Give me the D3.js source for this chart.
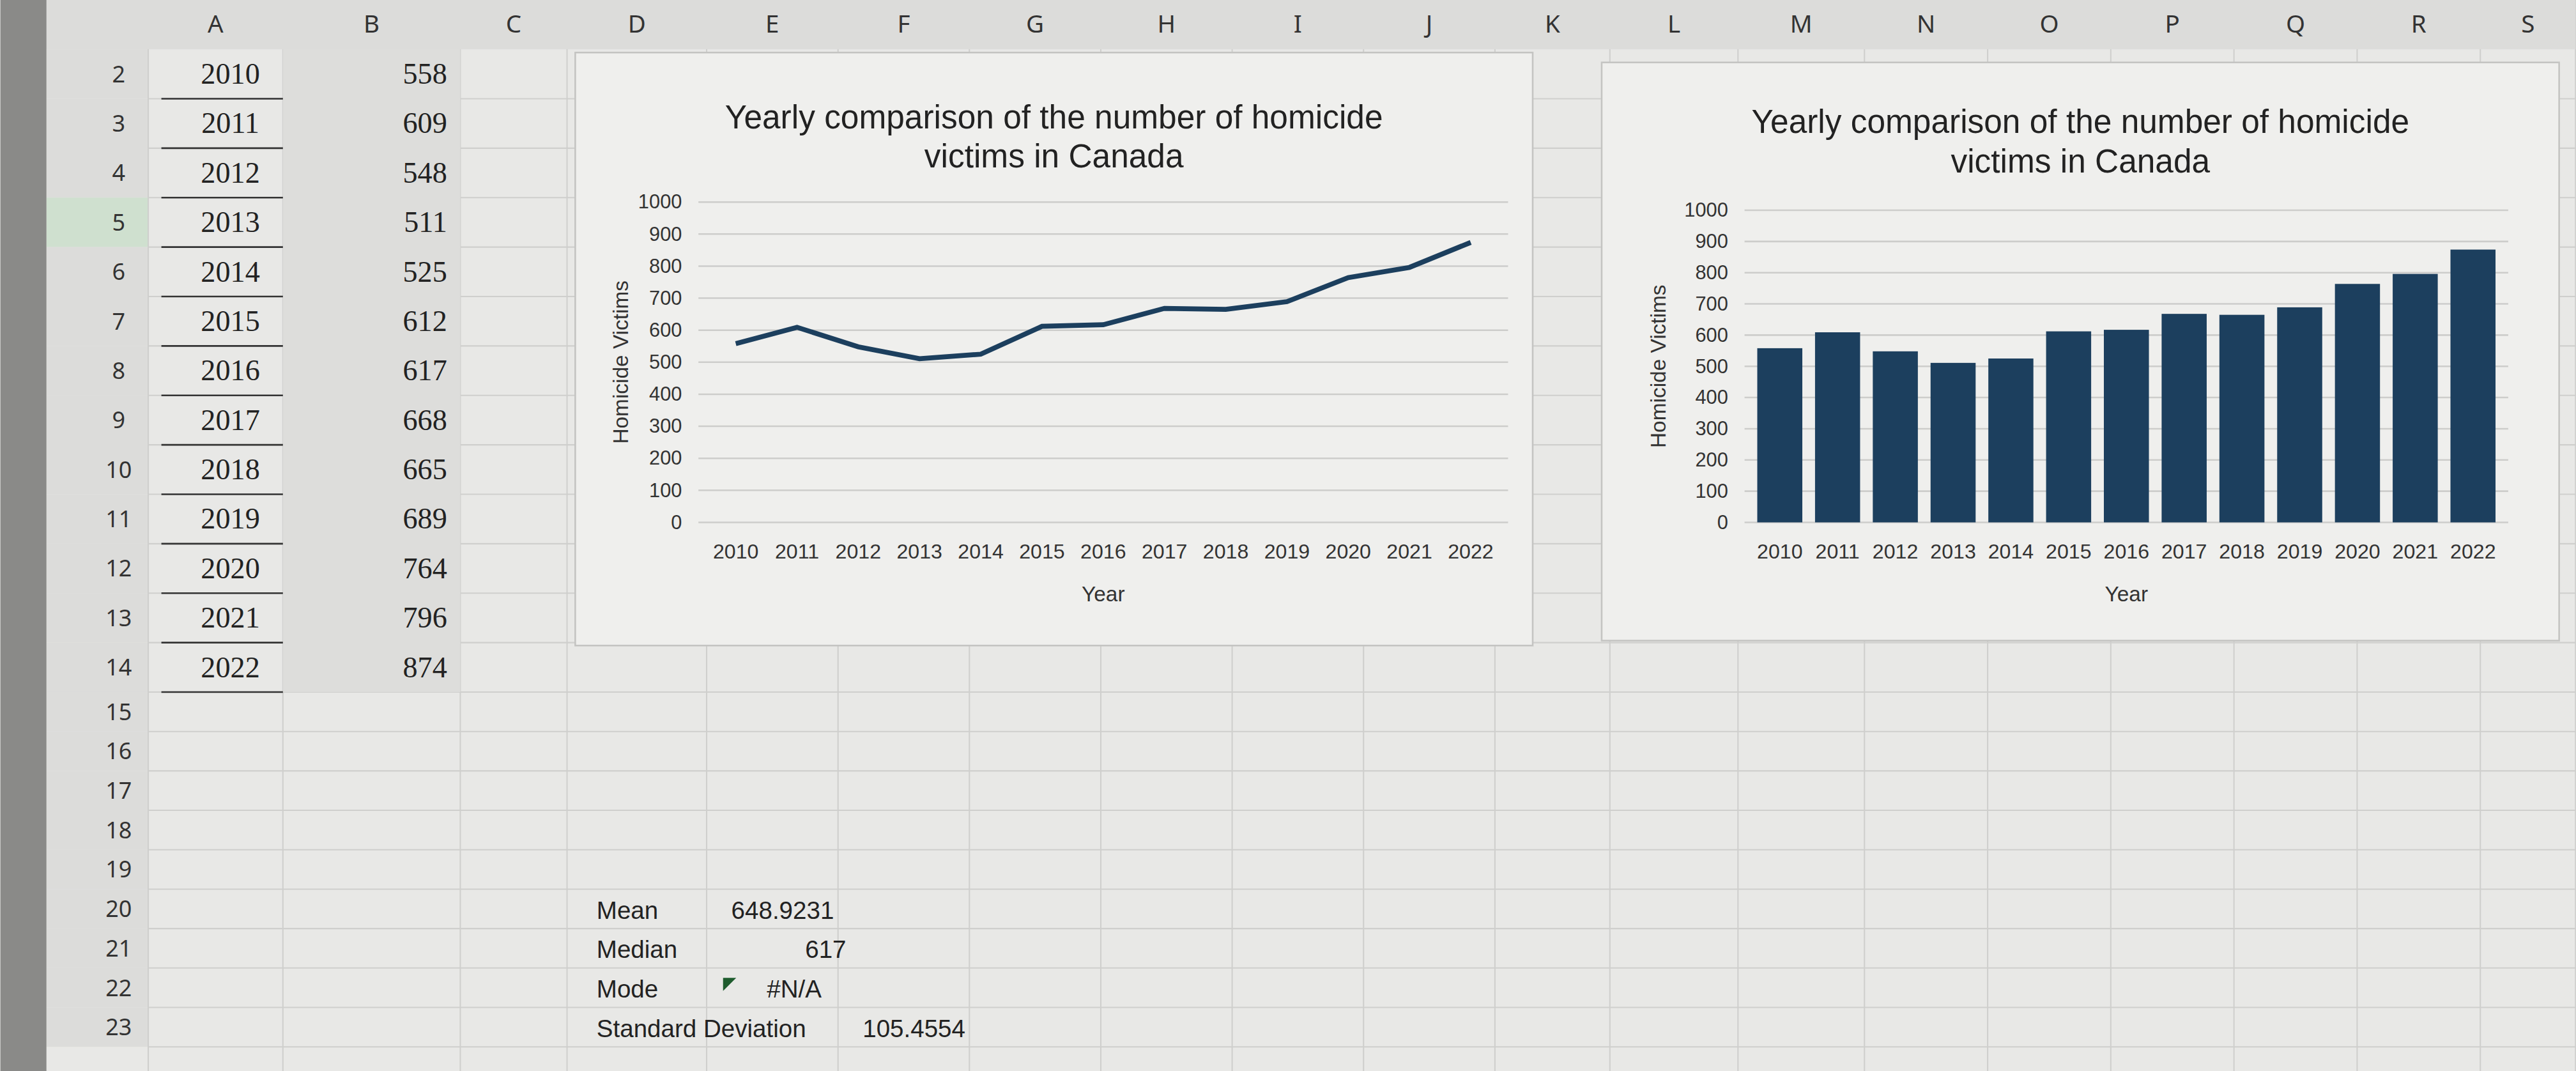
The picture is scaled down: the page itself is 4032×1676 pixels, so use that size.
<!DOCTYPE html>
<html><head><meta charset="utf-8">
<script src="https://cdn.jsdelivr.net/npm/d3@7"></script>
<style>body{margin:0;background:#e6e6e4;overflow:hidden}</style>
</head><body>
<svg id="s" width="4032" height="1676" viewBox="0 0 1568 652"></svg>
<script>
// data
var years = [2010,2011,2012,2013,2014,2015,2016,2017,2018,2019,2020,2021,2022];
var victims = [558,609,548,511,525,612,617,668,665,689,764,796,874];
var yTicks = [0,100,200,300,400,500,600,700,800,900,1000];
var colLetters = ["A","B","C","D","E","F","G","H","I","J","K","L","M","N","O","P","Q","R","S"];
var colEdges = [90,172,280,345,430,510,590,670,750,830,910,980,1058,1135,1210,1285,1360,1435,1510,1568];
var statNames = ["Mean","Median","Mode","Standard Deviation"];
var statVals = ["648.9231","617","#N/A","105.4554"];

var navy = "#1c3f5e";
var svg = d3.select("#s");
svg.append("rect").attr("width",1568).attr("height",652).attr("fill","#e8e8e6");

// row tops: taller rows at top of the photo, compressed lower down
var rows = d3.range(2,24);
function rowTopOf(i){ return i <= 13 ? 30 + i*30.1 : 30 + 13*30.1 + (i-13)*24; }
function rowHOf(i){ return i < 13 ? 30.1 : 24; }
var g = svg.append("g");
rows.forEach(function(r,i){
  var y = rowTopOf(i), h = rowHOf(i);
  g.append("line").attr("x1",90).attr("x2",1568).attr("y1",y+h).attr("y2",y+h).attr("stroke","#cfcfcd").attr("stroke-width",0.8);
  g.append("rect").attr("x",28).attr("y",y).attr("width",62).attr("height",h)
    .attr("fill", r==5 ? "#cfe0cf" : "#dcdcda");
  g.append("text").attr("x",72).attr("y",y+h/2+5).attr("text-anchor","middle")
    .attr("font-family","Noto Sans").attr("font-size",14).attr("fill","#333").text(r);
});
colEdges.forEach(function(x){
  g.append("line").attr("x1",x).attr("x2",x).attr("y1",0).attr("y2",652).attr("stroke","#cfcfcd").attr("stroke-width",0.8);
});
g.append("rect").attr("x",0).attr("y",0).attr("width",1568).attr("height",30).attr("fill","#dcdcda");
g.append("rect").attr("x",0).attr("y",0).attr("width",28).attr("height",652).attr("fill","#8a8a88");
colLetters.forEach(function(c,i){
  g.append("text").attr("x",(colEdges[i]+colEdges[i+1])/2).attr("y",20).attr("text-anchor","middle")
    .attr("font-family","Noto Sans").attr("font-size",15).attr("fill","#333").text(c);
});

// data cells
g.append("rect").attr("x",172).attr("y",30).attr("width",108).attr("height",30.1*13).attr("fill","#dddddb");
years.forEach(function(yr,i){
  var y = rowTopOf(i);
  g.append("text").attr("x",140).attr("y",y+21).attr("text-anchor","middle")
    .attr("font-family","Liberation Serif").attr("font-size",18).attr("fill","#222").text(yr);
  g.append("line").attr("x1",98).attr("x2",172).attr("y1",y+30.1).attr("y2",y+30.1).attr("stroke","#333").attr("stroke-width",1);
  g.append("text").attr("x",272).attr("y",y+21).attr("text-anchor","end")
    .attr("font-family","Liberation Serif").attr("font-size",18).attr("fill","#222").text(victims[i]);
});

// stats (rows 20-23)
statNames.forEach(function(n,i){
  var y = rowTopOf(18+i) + 18;
  g.append("text").attr("x",363).attr("y",y).attr("font-family","Liberation Sans").attr("font-size",15).attr("fill","#222").text(n);
});
var sy = function(i){ return rowTopOf(18+i) + 18; };
var sv = g.append("g").attr("font-family","Liberation Sans").attr("font-size",15).attr("fill","#222");
sv.append("text").attr("x",445).attr("y",sy(0)).text(statVals[0]);
sv.append("text").attr("x",515).attr("y",sy(1)).attr("text-anchor","end").text(statVals[1]);
sv.append("text").attr("x",500).attr("y",sy(2)).attr("text-anchor","end").text(statVals[2]);
sv.append("text").attr("x",525).attr("y",sy(3)).text(statVals[3]);
g.append("path").attr("d","M440,"+(sy(2)-12)+" l8,0 l-8,8Z").attr("fill","#1e5c2e");

function chart(box, plot, type){
  var c = svg.append("g");
  c.append("rect").attr("x",box.x).attr("y",box.y).attr("width",box.w).attr("height",box.h)
    .attr("fill","#efefed").attr("stroke","#c4c4c2");
  var cx = box.x + box.w/2;
  c.append("text").attr("x",cx).attr("y",box.y+box.ty).attr("text-anchor","middle")
    .attr("font-family","Liberation Sans").attr("font-size",20).attr("fill","#222")
    .text("Yearly comparison of the number of homicide");
  c.append("text").attr("x",cx).attr("y",box.y+box.ty+24).attr("text-anchor","middle")
    .attr("font-family","Liberation Sans").attr("font-size",20).attr("fill","#222")
    .text("victims in Canada");
  var y = d3.scaleLinear().domain([0,1000]).range([plot.b,plot.t]);
  var x = d3.scaleBand().domain(years).range([plot.l,plot.r]).padding(0.22);
  yTicks.forEach(function(t){
    c.append("line").attr("x1",plot.l).attr("x2",plot.r).attr("y1",y(t)).attr("y2",y(t)).attr("stroke","#cdcdcb");
    c.append("text").attr("x",plot.l-10).attr("y",y(t)+4).attr("text-anchor","end")
      .attr("font-family","Liberation Sans").attr("font-size",12).attr("fill","#333").text(t);
  });
  years.forEach(function(yr){
    c.append("text").attr("x",x(yr)+x.bandwidth()/2).attr("y",plot.b+22).attr("text-anchor","middle")
      .attr("font-family","Liberation Sans").attr("font-size",12.5).attr("fill","#333").text(yr);
  });
  if(type=="bar"){
    c.selectAll(".bar").data(victims).enter().append("rect")
      .attr("x",function(d,i){return x(years[i]);}).attr("width",x.bandwidth())
      .attr("y",function(d){return y(d);}).attr("height",function(d){return y(0)-y(d);})
      .attr("fill",navy);
  } else {
    var line = d3.line().x(function(d,i){return x(years[i])+x.bandwidth()/2;}).y(function(d){return y(d);});
    c.append("path").attr("d",line(victims)).attr("fill","none").attr("stroke",navy).attr("stroke-width",3);
  }
  c.append("text").attr("x",(plot.l+plot.r)/2).attr("y",plot.b+48).attr("text-anchor","middle")
    .attr("font-family","Liberation Sans").attr("font-size",13).attr("fill","#333").text("Year");
  c.append("text").attr("transform","translate("+plot.yl+","+(plot.t+plot.b)/2+") rotate(-90)")
    .attr("text-anchor","middle").attr("font-family","Liberation Sans").attr("font-size",13).attr("fill","#333")
    .text("Homicide Victims");
}
chart({x:350,y:32,w:583,h:361,ty:46},{l:425,r:918,t:123,b:318,yl:382},"line");
chart({x:975,y:38,w:583,h:352,ty:43},{l:1062,r:1527,t:128,b:318,yl:1014},"bar");
</script>
</body></html>
